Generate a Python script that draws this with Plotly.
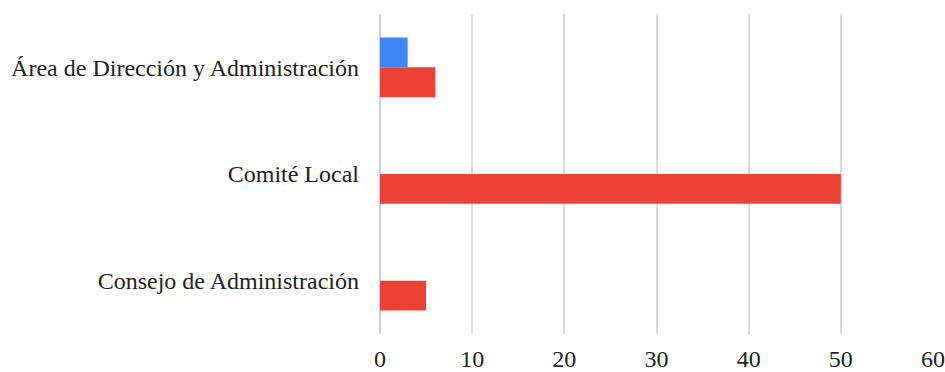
import plotly.graph_objects as go

# Categories listed top to bottom as they appear on the chart
categories = ["Área de Dirección y Administración", "Comité Local", "Consejo de Administración"]
series_blue = [3, 0, 0]
series_red = [6, 50, 5]
x_ticks = [0, 10, 20, 30, 40, 50, 60]

fig = go.Figure()
# Horizontal groups stack trace order bottom-up, so red comes first
fig.add_trace(go.Bar(y=categories, x=series_red, orientation="h",
                     marker=dict(color="#EA4335", line=dict(width=0)), name="Rojo"))
fig.add_trace(go.Bar(y=categories, x=series_blue, orientation="h",
                     marker=dict(color="#4285F4", line=dict(width=0)), name="Azul"))

fig.update_layout(
    width=945, height=372,
    margin=dict(l=380, r=12, t=14, b=38),
    barmode="group", bargap=0.44, bargroupgap=0,
    showlegend=False,
    plot_bgcolor="white", paper_bgcolor="white",
    font=dict(family="Liberation Serif", size=24, color="#222222"),
)
fig.update_xaxes(range=[0, 60], tickvals=x_ticks, showgrid=True,
                 gridcolor="#dcdcdc", gridwidth=2, zeroline=True,
                 zerolinecolor="#d0d0d0", zerolinewidth=2,
                 ticklabelstandoff=8, showline=False, automargin=False)
fig.update_yaxes(categoryorder="array", categoryarray=categories[::-1],
                 showgrid=False, ticklabelstandoff=20, ticks="", automargin=False)

fig.write_html("out.html")
